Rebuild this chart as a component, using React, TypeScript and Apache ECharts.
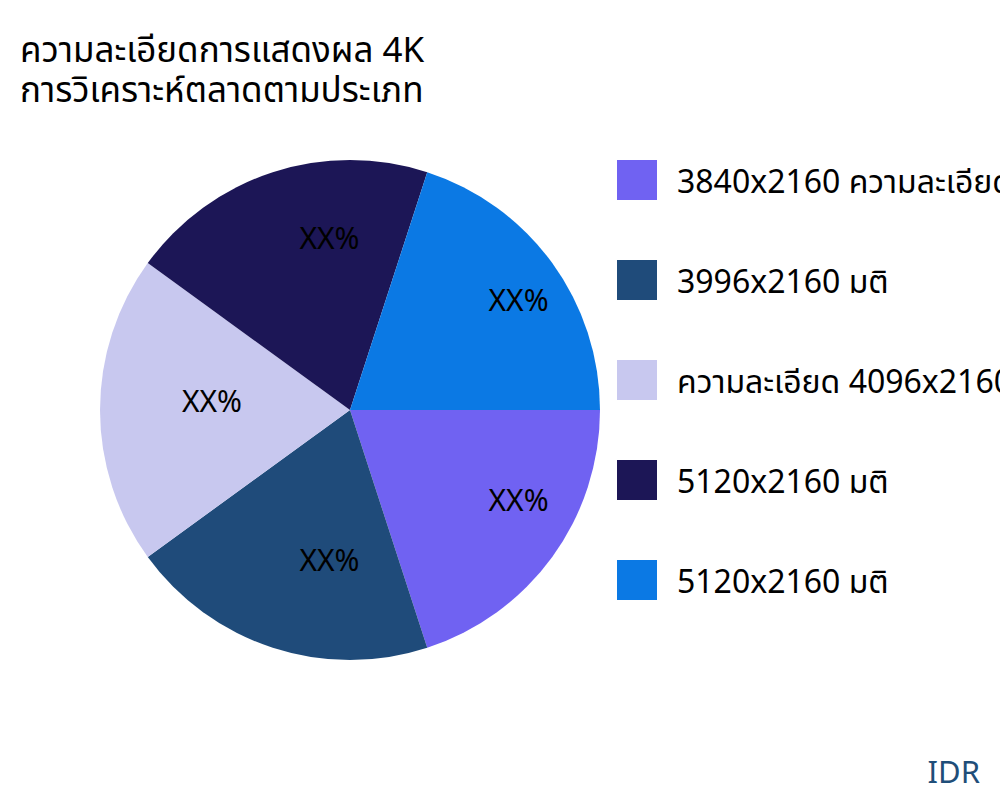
import * as echarts from "echarts";
import { useEffect, useRef } from "react";

const titleLines = ["ความละเอียดการแสดงผล 4K", "การวิเคราะห์ตลาดตามประเภท"];
const categories = [
  "3840x2160 ความละเอียด",
  "3996x2160 มติ",
  "ความละเอียด 4096x2160",
  "5120x2160 มติ",
  "5120x2160 มติ",
];
const shares = [20, 20, 20, 20, 20];
const sliceLabels = ["XX%", "XX%", "XX%", "XX%", "XX%"];
const colors = ["#7062F2", "#1F4B7A", "#C8C8EF", "#1C1656", "#0B79E4"];

// small nudges so the inside labels sit where the reference puts them
const labelNudge = [
  [65, 14],
  [19, 28],
  [-10, -10],
  [19, -51],
  [65, -35],
];

const FONT = '"Noto Sans", "Noto Sans Thai", sans-serif';

const App = () => {
  const chartRef = useRef<HTMLDivElement>(null);

  useEffect(() => {
    document.body.style.margin = "0";
    if (!chartRef.current) return;
    const chart = echarts.init(chartRef.current, null, { renderer: "svg" });

    chart.setOption({
      animation: false,
      backgroundColor: "#ffffff",
      title: titleLines.map((line, i) => ({
        text: line,
        left: 20,
        top: 28 + i * 40,
        padding: 0,
        textStyle: {
          fontFamily: FONT,
          fontSize: 35,
          fontWeight: "normal",
          color: "#000000",
          lineHeight: 40,
        },
      })),
      legend: {
        orient: "vertical",
        left: 617,
        top: 160,
        padding: 0,
        icon: "rect",
        itemWidth: 40,
        itemHeight: 40,
        itemGap: 60,
        selectedMode: false,
        textStyle: {
          fontFamily: FONT,
          fontSize: 32,
          color: "#000000",
          padding: [0, 0, 0, 15],
        },
        data: categories.map((name, i) => ({ name: name + (i === 4 ? " " : "") })),
      },
      graphic: [
        {
          type: "text",
          right: 20,
          bottom: 14,
          style: {
            text: "IDR",
            fill: "#1F4E79",
            font: `31px ${FONT}`,
          },
        },
      ],
      series: [
        {
          type: "pie",
          center: [350, 410],
          radius: 250,
          startAngle: 0,
          clockwise: true,
          avoidLabelOverlap: false,
          emphasis: { disabled: true },
          label: {
            show: true,
            position: "inside",
            color: "#000000",
            fontFamily: FONT,
            fontSize: 30,
            formatter: (p: { dataIndex: number }) => sliceLabels[p.dataIndex],
          },
          labelLine: { show: false },
          labelLayout: (p: { dataIndex: number }) => ({
            dx: labelNudge[p.dataIndex][0],
            dy: labelNudge[p.dataIndex][1],
          }),
          data: shares.map((value, i) => ({
            value,
            name: categories[i] + (i === 4 ? " " : ""),
            itemStyle: { color: colors[i] },
          })),
        },
      ],
    });

    return () => {
      chart.dispose();
    };
  }, []);

  return <div ref={chartRef} style={{ width: "1000px", height: "800px" }} />;
};

export default App;
